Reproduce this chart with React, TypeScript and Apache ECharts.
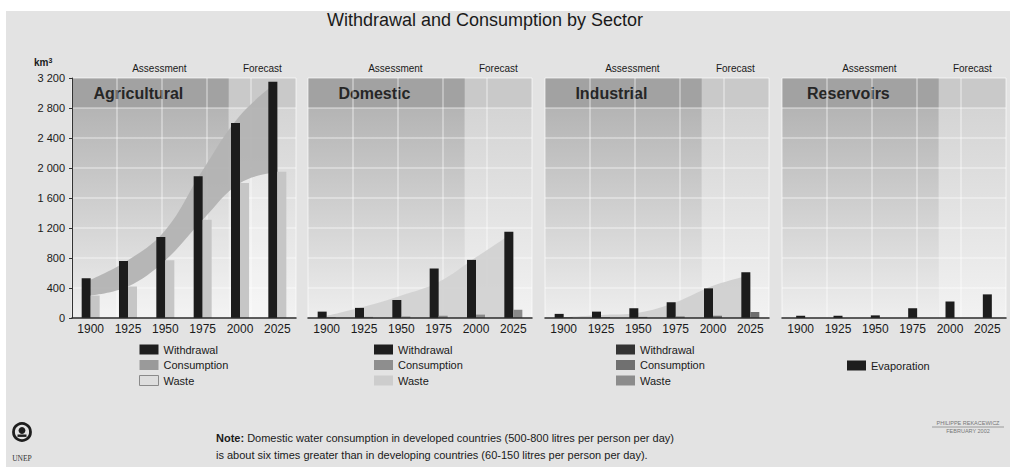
import React, { useEffect, useRef } from "react";
import * as echarts from "echarts";

// ---- data (km³) ----
const years = ["1900", "1925", "1950", "1975", "2000", "2025"];
const sectors = ["Agricultural", "Domestic", "Industrial", "Reservoirs"];

const agriWithdrawal = [530, 760, 1080, 1890, 2600, 3150];
const agriWaste = [300, 420, 770, 1310, 1800, 1950];
const agriConsumption = [210, 350, 400, 660, 900, 1200];

const domWithdrawal = [85, 135, 240, 660, 775, 1150];
const domConsumption = [10, 15, 20, 30, 45, 110];
const domWaste = [30, 150, 300, 480, 810, 1140];

const indWithdrawal = [55, 85, 130, 210, 395, 610];
const indConsumption = [8, 10, 15, 20, 30, 80];
const indWaste = [10, 40, 70, 210, 430, 570];

const resEvaporation = [30, 30, 35, 130, 220, 315];

const yTicks = [0, 400, 800, 1200, 1600, 2000, 2400, 2800, 3200];
const periodLabels = ["Assessment", "Forecast"];
const assessmentEnd = 4.2; // in category units on the 0..6 helper axis

// ---- layout ----
const FONT = "Liberation Sans, Arial, sans-serif";
const PANEL_LEFTS = [72, 308, 545, 782];
const PANEL_W = 224;
const PANEL_TOP = 78;
const PANEL_H = 240;

const fmtTick = (v: number) =>
  v >= 1000 ? `${Math.floor(v / 1000)} ${String(v % 1000).padStart(3, "0")}` : String(v);

const grad = (a: string, b: string) => ({
  type: "linear",
  x: 0,
  y: 0,
  x2: 0,
  y2: 1,
  colorStops: [
    { offset: 0, color: a },
    { offset: 1, color: b },
  ],
});

function buildOption() {
  const grids = PANEL_LEFTS.map((l) => ({ left: l, top: PANEL_TOP, width: PANEL_W, height: PANEL_H }));
  const xAxes: any[] = [];
  const yAxes: any[] = [];
  const series: any[] = [];
  const splitStyle = { color: "rgba(255,255,255,0.45)", width: 1.5 };

  PANEL_LEFTS.forEach((_, i) => {
    xAxes.push({
      type: "category",
      gridIndex: i,
      data: years,
      boundaryGap: true,
      z: 6,
      axisLine: { show: true, lineStyle: { color: "#2a2a2a", width: 1.5 } },
      axisTick: { show: false },
      axisLabel: { fontSize: 12, color: "#1a1a1a", margin: 5, fontFamily: FONT },
      splitLine: { show: false },
    });
    xAxes.push({
      type: "value",
      gridIndex: i,
      min: 0,
      max: 6,
      interval: 1.2,
      z: 3,
      axisLine: { show: false },
      axisTick: { show: false },
      axisLabel: { show: false },
      splitLine: { show: true, lineStyle: splitStyle },
    });
    yAxes.push({
      type: "value",
      gridIndex: i,
      min: yTicks[0],
      max: yTicks[yTicks.length - 1],
      interval: yTicks[1] - yTicks[0],
      offset: i === 0 ? 2 : 0,
      z: 3,
      axisLine: { show: i === 0, lineStyle: { color: "#333", width: 1 } },
      axisTick: { show: i === 0, length: 3, lineStyle: { color: "#333" } },
      axisLabel: { show: i === 0, formatter: fmtTick, fontSize: 11, color: "#1a1a1a", margin: 5, fontFamily: FONT },
      splitLine: { show: true, lineStyle: splitStyle },
    });

    // background panels (assessment / forecast)
    series.push({
      type: "line",
      name: "bg" + i,
      xAxisIndex: 2 * i + 1,
      yAxisIndex: i,
      data: [],
      z: 1,
      silent: true,
      markArea: {
        silent: true,
        data: [
          [
            {
              xAxis: 0,
              yAxis: 0,
              itemStyle: { color: grad("#acacac", "#eeeeee") },
              label: {
                show: true,
                position: "top",
                distance: 5,
                offset: [9, 0],
                formatter: periodLabels[0],
                fontSize: 10,
                color: "#1a1a1a",
                fontFamily: FONT,
              },
            },
            { xAxis: assessmentEnd, yAxis: 3200 },
          ],
          [
            {
              xAxis: assessmentEnd,
              yAxis: 0,
              itemStyle: { color: grad("#d0d0d0", "#f2f2f2") },
              label: {
                show: true,
                position: "top",
                distance: 5,
                formatter: periodLabels[1],
                fontSize: 10,
                color: "#1a1a1a",
                fontFamily: FONT,
              },
            },
            { xAxis: 6, yAxis: 3200 },
          ],
          [
            {
              xAxis: 0,
              yAxis: 2800,
              itemStyle: { color: "#a2a2a2" },
              label: {
                show: true,
                position: "inside",
                offset: [-12, 0],
                formatter: sectors[i],
                fontSize: 16,
                fontWeight: "bold",
                color: "#262626",
                fontFamily: FONT,
              },
            },
            { xAxis: assessmentEnd, yAxis: 3200 },
          ],
          [
            { xAxis: assessmentEnd, yAxis: 2800, itemStyle: { color: "#c9c9c9" }, label: { show: false } },
            { xAxis: 6, yAxis: 3200 },
          ],
        ],
      },
    });
  });

  const barBase = { type: "bar", barWidth: 9, barGap: "0%", z: 5, silent: true };
  const areaBase = {
    type: "line",
    smooth: 0.4,
    showSymbol: false,
    symbol: "none",
    lineStyle: { width: 0 },
    z: 4,
    silent: true,
  };

  // Agricultural
  series.push({ ...areaBase, name: "Waste", xAxisIndex: 0, yAxisIndex: 0, stack: "agri", data: agriWaste, areaStyle: { color: "rgba(255,255,255,0.45)" } });
  series.push({ ...areaBase, name: "Consumption", xAxisIndex: 0, yAxisIndex: 0, stack: "agri", data: agriConsumption, areaStyle: { color: "#b3b3b3", opacity: 0.95 } });
  series.push({ ...barBase, name: "Withdrawal", xAxisIndex: 0, yAxisIndex: 0, data: agriWithdrawal, itemStyle: { color: "#1c1c1c" } });
  series.push({ ...barBase, name: "Waste", xAxisIndex: 0, yAxisIndex: 0, data: agriWaste, itemStyle: { color: "#c6c6c6" } });

  // Domestic
  series.push({ ...areaBase, name: "Waste", xAxisIndex: 2, yAxisIndex: 1, data: domWaste, areaStyle: { color: "#d2d2d2", opacity: 0.95 } });
  series.push({ ...barBase, name: "Withdrawal", xAxisIndex: 2, yAxisIndex: 1, data: domWithdrawal, itemStyle: { color: "#1c1c1c" } });
  series.push({ ...barBase, name: "Consumption", xAxisIndex: 2, yAxisIndex: 1, data: domConsumption, itemStyle: { color: "#8a8a8a" } });

  // Industrial
  series.push({ ...areaBase, name: "Waste", xAxisIndex: 4, yAxisIndex: 2, data: indWaste, areaStyle: { color: "#d0d0d0", opacity: 0.95 } });
  series.push({ ...barBase, name: "Withdrawal", xAxisIndex: 4, yAxisIndex: 2, data: indWithdrawal, itemStyle: { color: "#1c1c1c" } });
  series.push({ ...barBase, name: "Consumption", xAxisIndex: 4, yAxisIndex: 2, data: indConsumption, itemStyle: { color: "#6e6e6e" } });

  // Reservoirs
  series.push({ ...barBase, name: "Evaporation", xAxisIndex: 6, yAxisIndex: 3, data: resEvaporation, itemStyle: { color: "#1c1c1c" } });

  const legendBase = {
    orient: "vertical",
    icon: "rect",
    itemWidth: 19,
    itemHeight: 10,
    itemGap: 4.5,
    selectedMode: false,
    padding: 0,
    textStyle: { fontSize: 11, color: "#1a1a1a", fontFamily: FONT },
  };

  const legends = [
    {
      ...legendBase,
      left: 139,
      top: 344,
      data: [
        { name: "Withdrawal", itemStyle: { color: "#1e1e1e" } },
        { name: "Consumption", itemStyle: { color: "#9a9a9a" } },
        { name: "Waste", itemStyle: { color: "#dedede", borderColor: "#8a8a8a", borderWidth: 1 } },
      ],
    },
    {
      ...legendBase,
      left: 374,
      top: 344,
      data: [
        { name: "Withdrawal", itemStyle: { color: "#1e1e1e" } },
        { name: "Consumption", itemStyle: { color: "#8e8e8e" } },
        { name: "Waste", itemStyle: { color: "#cdcdcd" } },
      ],
    },
    {
      ...legendBase,
      left: 616,
      top: 344,
      data: [
        { name: "Withdrawal", itemStyle: { color: "#333333" } },
        { name: "Consumption", itemStyle: { color: "#707070" } },
        { name: "Waste", itemStyle: { color: "#8c8c8c" } },
      ],
    },
    {
      ...legendBase,
      left: 847,
      top: 360,
      data: [{ name: "Evaporation", itemStyle: { color: "#1e1e1e" } }],
    },
  ];

  const graphic = [
    { type: "rect", shape: { x: 0, y: 0, width: 1015, height: 11 }, style: { fill: "#ffffff" }, z: 10 },
    { type: "rect", shape: { x: 0, y: 0, width: 6, height: 467 }, style: { fill: "#ffffff" }, z: 10 },
    { type: "rect", shape: { x: 1010, y: 0, width: 5, height: 467 }, style: { fill: "#ffffff" }, z: 10 },
    {
      type: "text",
      x: 485,
      y: 20,
      style: {
        text: "Withdrawal and Consumption by Sector",
        fill: "#1a1a1a",
        fontSize: 18,
        fontFamily: FONT,
        align: "center",
        verticalAlign: "middle",
      },
    },
    {
      type: "text",
      x: 34,
      y: 62,
      style: {
        text: "{a|km}{s|3}",
        verticalAlign: "middle",
        rich: {
          a: { fontSize: 10, fontWeight: "bold", fill: "#1a1a1a", fontFamily: FONT },
          s: { fontSize: 7, fontWeight: "bold", fill: "#1a1a1a", fontFamily: FONT, verticalAlign: "top" },
        },
      },
    },
    {
      type: "text",
      x: 216,
      y: 438,
      style: {
        text: "{b|Note:} Domestic water consumption in developed countries (500-800 litres per person per day)",
        fill: "#1a1a1a",
        fontSize: 11,
        fontFamily: FONT,
        verticalAlign: "middle",
        rich: { b: { fontWeight: "bold", fontSize: 11, fontFamily: FONT, fill: "#1a1a1a" } },
      },
    },
    {
      type: "text",
      x: 216,
      y: 455,
      style: {
        text: "is about six times greater than in developing countries (60-150 litres per person per day).",
        fill: "#1a1a1a",
        fontSize: 11,
        fontFamily: FONT,
        verticalAlign: "middle",
      },
    },
    // UNEP logo
    { type: "circle", shape: { cx: 22, cy: 432, r: 8.5 }, style: { fill: "none", stroke: "#1e1e1e", lineWidth: 2.8 } },
    { type: "circle", shape: { cx: 22, cy: 430.5, r: 3.4 }, style: { fill: "#1e1e1e" } },
    { type: "rect", shape: { x: 17.5, y: 434.5, width: 9, height: 2.4 }, style: { fill: "#1e1e1e" } },
    {
      type: "text",
      x: 22,
      y: 458,
      style: { text: "UNEP", fill: "#333", fontSize: 7.5, fontFamily: "Liberation Serif, serif", align: "center", verticalAlign: "middle" },
    },
    // credits
    {
      type: "text",
      x: 968,
      y: 423,
      style: { text: "PHILIPPE REKACEWICZ", fill: "#777", fontSize: 5.5, fontFamily: FONT, align: "center", verticalAlign: "middle" },
    },
    { type: "line", shape: { x1: 932, y1: 427, x2: 1004, y2: 427 }, style: { stroke: "#888", lineWidth: 0.8 } },
    {
      type: "text",
      x: 968,
      y: 431,
      style: { text: "FEBRUARY 2002", fill: "#777", fontSize: 5.5, fontFamily: FONT, align: "center", verticalAlign: "middle" },
    },
  ];

  return {
    animation: false,
    backgroundColor: "#e3e3e3",
    textStyle: { fontFamily: FONT },
    grid: grids,
    xAxis: xAxes,
    yAxis: yAxes,
    legend: legends,
    graphic,
    series,
  };
}

export default function App() {
  const ref = useRef<HTMLDivElement>(null);
  useEffect(() => {
    if (!ref.current) return;
    const chart = echarts.init(ref.current, undefined, { renderer: "svg" });
    chart.setOption(buildOption() as any);
    return () => chart.dispose();
  }, []);
  return <div ref={ref} style={{ position: "absolute", left: 0, top: 0, width: 1015, height: 467 }} />;
}
